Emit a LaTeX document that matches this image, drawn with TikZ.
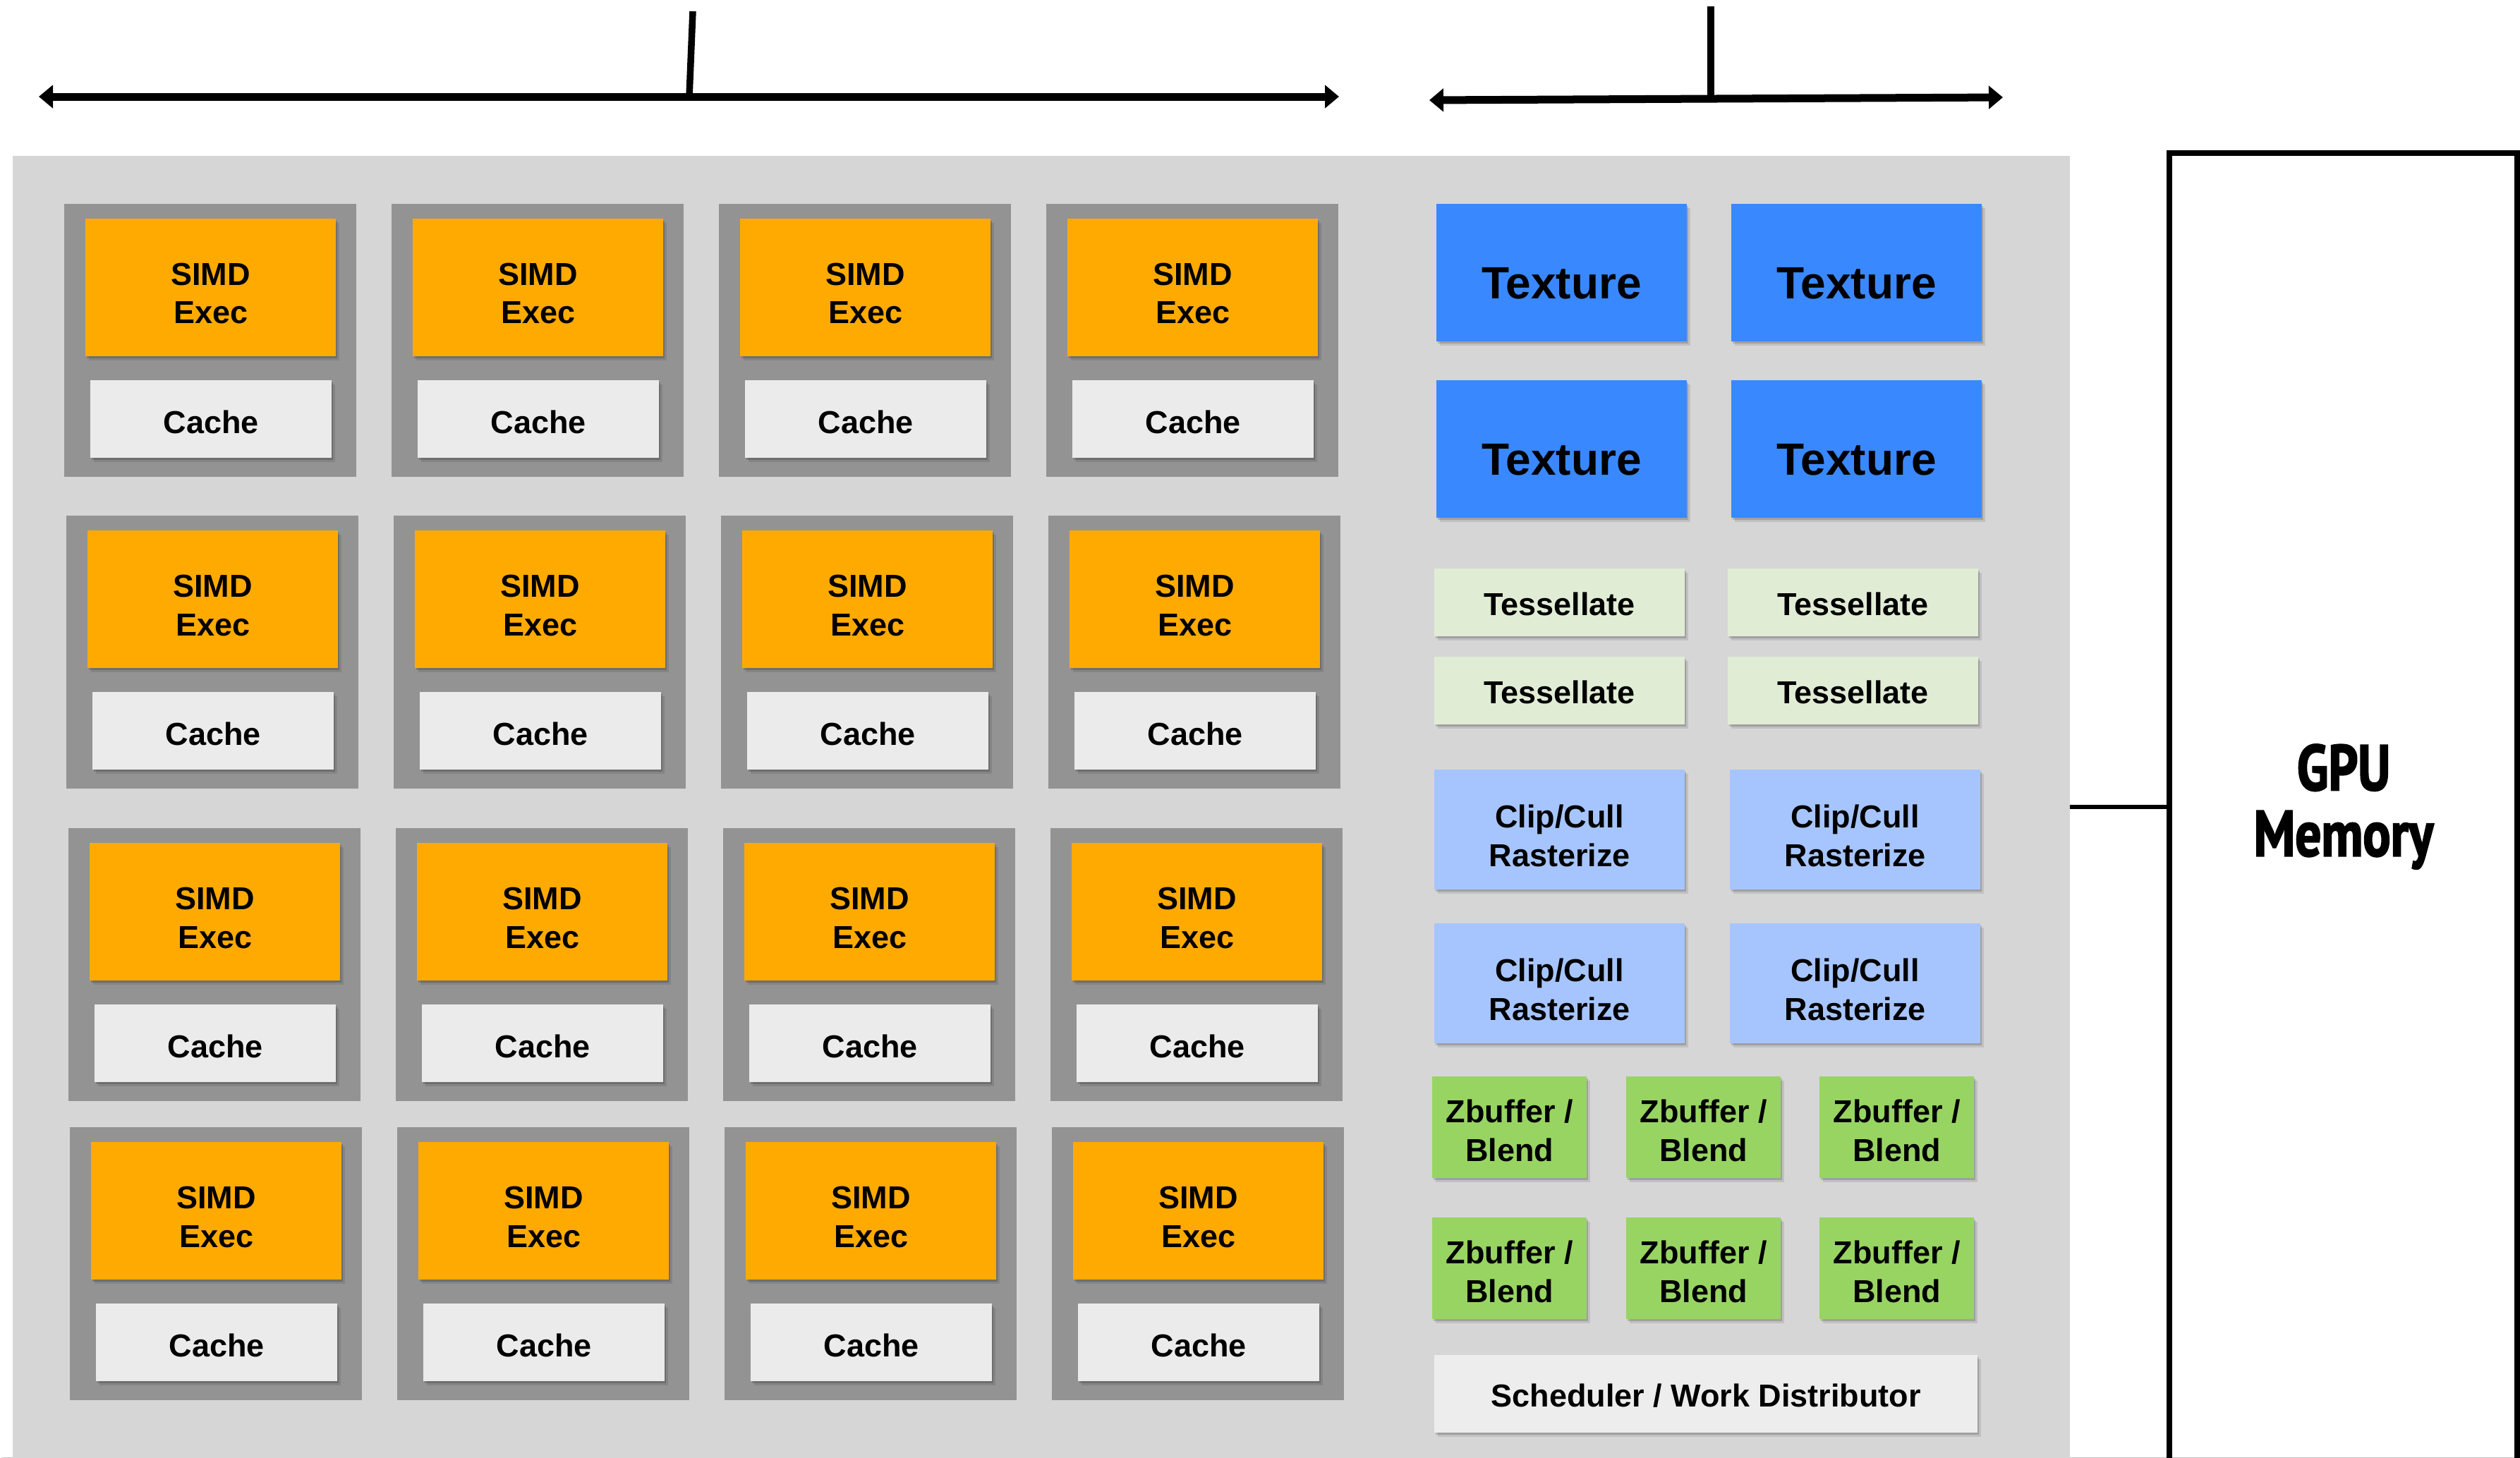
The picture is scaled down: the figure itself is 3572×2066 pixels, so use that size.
\documentclass[tikz,border=0pt]{standalone}
\usepackage{fontspec}
\setmainfont{Liberation Sans}
\newfontfamily\memfont[FakeStretch=0.80, FakeBold=2.2]{PT Sans}
\usetikzlibrary{arrows.meta,shadows}
\definecolor{bggray}{HTML}{D6D6D6}
\definecolor{panelgray}{HTML}{939393}
\definecolor{simdorange}{HTML}{FFAA00}
\definecolor{cachegray}{HTML}{EBEBEB}
\definecolor{texblue}{HTML}{3A88FE}
\definecolor{tessgreen}{HTML}{E1ECD5}
\definecolor{clipblue}{HTML}{A6C5FE}
\definecolor{zbgreen}{HTML}{98D462}
\definecolor{schedgray}{HTML}{EDEDED}
\begin{document}
\begin{tikzpicture}[x=0.01cm,y=-0.01cm,
  box/.style={rectangle, inner sep=0pt, outer sep=0pt, anchor=north west},
  shad/.style={drop shadow={shadow xshift=0.02cm,shadow yshift=-0.03cm,fill=black,opacity=0.16},
               drop shadow={shadow xshift=0.045cm,shadow yshift=-0.06cm,fill=black,opacity=0.10}},
  panel/.style={box, fill=panelgray, minimum width=4.14cm, minimum height=3.87cm},
  simd/.style={box, shad, fill=simdorange, minimum width=3.55cm, minimum height=1.95cm},
  cache/.style={box, shad, fill=cachegray, minimum width=3.42cm, minimum height=1.10cm},
  texture/.style={box, shad, fill=texblue, minimum width=3.55cm, minimum height=1.95cm},
  tess/.style={box, shad, fill=tessgreen, minimum width=3.55cm, minimum height=0.96cm},
  clip/.style={box, shad, fill=clipblue, minimum width=3.55cm, minimum height=1.70cm},
  zbuf/.style={box, shad, fill=zbgreen, minimum width=2.19cm, minimum height=1.44cm},
  sched/.style={box, shad, fill=schedgray, minimum width=7.70cm, minimum height=1.10cm},
  lbl/.style={inner sep=0pt, outer sep=0pt, align=center, font=\bfseries\fontsize{12.8}{15.6}\selectfont},
  biglbl/.style={inner sep=0pt, outer sep=0pt, align=center, font=\bfseries\fontsize{18.2}{21}\selectfont},
  bar/.style={line width=0.11cm, {Triangle[length=0.2cm,width=0.32cm]}-{Triangle[length=0.2cm,width=0.32cm]}},
  stem/.style={line width=0.095cm}
]
\useasboundingbox (0,0) rectangle (3572,2066);
\clip (0,0) rectangle (3572,2066);
\fill[white] (0,0) rectangle (3572,2066);

% GPU background
\node[box, fill=bggray, minimum width=29.14cm, minimum height=18.45cm] (gpu) at (18,221) {};

% GPU memory
\node[box, draw=black, line width=0.08cm, minimum width=4.93cm, minimum height=20cm] (mem) at (3075,217) {};
\node[inner sep=0pt, outer sep=0pt, anchor=north, align=center,
      font=\memfont\bfseries\fontsize{26}{26.5}\selectfont] (memtxt) at (3322,1055) {GPU\\Memory};
\draw[line width=0.06cm] (gpu.east) -- (mem.west |- gpu.east);

% top arrows
\coordinate (la1) at (55,137);
\coordinate (la2) at (1898,137);
\coordinate (ls1) at (982,16);
\coordinate (ls2) at (977,137);
\draw[bar] (la1) -- (la2);
\draw[stem] (ls1) -- (ls2);
\coordinate (ra1) at (2026,142);
\coordinate (ra2) at (2839,138);
\coordinate (rs1) at (2425,9);
\coordinate (rs2) at (2425,140);
\draw[bar] (ra1) -- (ra2);
\draw[stem] (rs1) -- (rs2);

% SIMD cores
\foreach \r/\yy/\xx in {1/289/91, 2/731/94, 3/1174/97, 4/1598/99} {
  \foreach \c in {0,1,2,3} {
    \pgfmathsetmacro\px{\xx+464*\c}
    \node[panel] (p\r\c) at (\px,\yy) {};
    \node[simd] (s\r\c) at (\px+30,\yy+21) {};
    \node[lbl] (st\r\c) at ([yshift=-0.085cm]s\r\c.center) {SIMD\\Exec};
    \node[cache] (c\r\c) at (\px+37,\yy+250) {};
    \node[lbl] (ct\r\c) at ([yshift=-0.04cm]c\r\c.center) {Cache};
  }
}

% Texture units
\foreach \n/\xx/\yy in {1/2036/289, 2/2454/289, 3/2036/539, 4/2454/539} {
  \node[texture] (tx\n) at (\xx,\yy) {};
  \node[biglbl] (txt\n) at ([yshift=-0.15cm]tx\n.center) {Texture};
}

% Tessellate
\foreach \n/\xx/\yy in {1/2033/806, 2/2449/806, 3/2033/931, 4/2449/931} {
  \node[tess] (ts\n) at (\xx,\yy) {};
  \node[lbl] (tst\n) at ([yshift=-0.02cm]ts\n.center) {Tessellate};
}

% Clip/Cull
\foreach \n/\xx/\yy in {1/2033/1091, 2/2452/1091, 3/2033/1309, 4/2452/1309} {
  \node[clip] (cl\n) at (\xx,\yy) {};
  \node[lbl] (clt\n) at ([yshift=-0.09cm]cl\n.center) {Clip/Cull\\Rasterize};
}

% Zbuffer / Blend
\foreach \n/\xx/\yy in {1/2030/1526, 2/2305/1526, 3/2579/1526, 4/2030/1726, 5/2305/1726, 6/2579/1726} {
  \node[zbuf] (zb\n) at (\xx,\yy) {};
  \node[lbl] (zbt\n) at ([yshift=-0.05cm]zb\n.center) {Zbuffer /\\Blend};
}

% Scheduler
\node[sched] (sch) at (2033,1921) {};
\node[lbl] (scht) at ([yshift=-0.03cm]sch.center) {Scheduler / Work Distributor};
\end{tikzpicture}
\end{document}
